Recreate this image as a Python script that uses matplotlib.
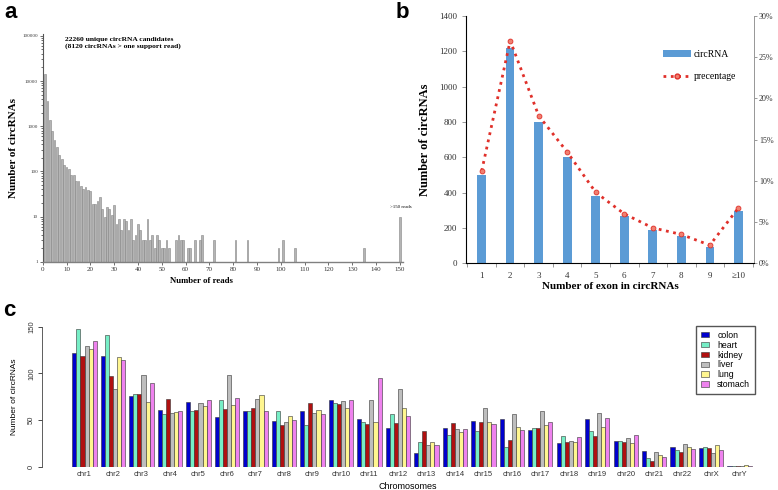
import numpy as np
import matplotlib
matplotlib.use('Agg')
import matplotlib.pyplot as plt
from matplotlib.ticker import FuncFormatter, FixedLocator, PercentFormatter
from matplotlib.lines import Line2D
from matplotlib.patches import Patch

SERIF = 'Liberation Serif'
SANS = 'Liberation Sans'

# ---- panel a: reads per circRNA (log scale) ----
reads = [1, 2, 3, 4, 5, 6, 7, 8, 9, 10, 11, 12, 13, 14, 15, 16, 17, 18, 19, 20,
         21, 22, 23, 24, 25, 26, 27, 28, 29, 30, 31, 32, 33, 34, 35, 36, 37, 38, 39, 40,
         41, 42, 43, 44, 45, 46, 47, 48, 49, 50, 51, 52, 53, 56, 57, 58, 59, 61, 62, 64,
         66, 67, 72, 81, 86, 99, 101, 106, 135, 150]
n_circ = [14000, 3600, 1400, 800, 500, 340, 230, 190, 135, 125, 110, 85, 82, 60, 60, 48, 41, 45, 38, 37,
          19, 19, 22, 27, 15, 10, 16, 15, 11, 18, 7, 9, 5, 9, 8, 5, 9, 3, 4, 7,
          5, 3, 3, 9, 3, 4, 2, 4, 3, 2, 2, 3, 2, 3, 4, 3, 3, 2, 2, 3,
          3, 4, 3, 3, 3, 2, 3, 2, 2, 10]

# ---- panel b: exon number ----
exon_labels = ['1', '2', '3', '4', '5', '6', '7', '8', '9', '≥10']
exon_counts = [500, 1220, 800, 600, 380, 265, 190, 155, 95, 295]
exon_pct = [11.2, 27.0, 17.9, 13.5, 8.6, 6.0, 4.3, 3.5, 2.2, 6.7]

# ---- panel c: circRNAs per chromosome per tissue ----
chroms = ['chr1', 'chr2', 'chr3', 'chr4', 'chr5', 'chr6', 'chr7', 'chr8', 'chr9', 'chr10',
          'chr11', 'chr12', 'chr13', 'chr14', 'chr15', 'chr16', 'chr17', 'chr18', 'chr19',
          'chr20', 'chr21', 'chr22', 'chrX', 'chrY']
tissues = ['colon', 'heart', 'kidney', 'liver', 'lung', 'stomach']
tissue_colors = ['#0000CD', '#76EEC6', '#B01010', '#BEBEBE', '#FFF68F', '#EE82EE']
colon = [122, 119, 76, 61, 69, 53, 60, 49, 60, 72, 51, 42, 15, 42, 49, 51, 39, 25, 51, 28, 17, 21, 20, 1]
heart = [148, 141, 78, 56, 60, 71, 60, 60, 45, 68, 48, 56, 26, 34, 38, 21, 42, 33, 38, 28, 9, 18, 21, 1]
kidney = [119, 97, 78, 73, 61, 62, 63, 45, 68, 67, 46, 47, 38, 47, 48, 29, 42, 27, 33, 27, 6, 16, 20, 1]
liver = [129, 83, 98, 58, 68, 98, 73, 48, 58, 70, 71, 83, 23, 40, 63, 57, 60, 28, 58, 31, 16, 24, 15, 1]
lung = [126, 118, 69, 59, 65, 66, 77, 54, 61, 63, 48, 63, 27, 37, 48, 43, 45, 27, 43, 25, 13, 21, 23, 2]
stomach = [135, 114, 90, 60, 72, 74, 60, 50, 57, 71, 95, 54, 23, 40, 46, 39, 48, 32, 52, 34, 10, 19, 18, 0.5]
tissue_values = [colon, heart, kidney, liver, lung, stomach]

W, H = 778, 490
fig = plt.figure(figsize=(W / 100, H / 100), dpi=100)


def box(x0, y0, x1, y1):
    # pixel box (top-left origin) -> figure fraction rect
    return [x0 / W, 1 - y1 / H, (x1 - x0) / W, (y1 - y0) / H]


# ================= panel a =================
ax = fig.add_axes(box(42.7, 34, 403, 261.7))
ax.bar(reads, n_circ, width=0.75, color='#B4B4B4', edgecolor='#858585', linewidth=0.4, log=True)
ax.set_yscale('log')
ax.set_ylim(1, 1.1e5)
ax.set_xlim(0, 151.3)
ax.set_xticks(np.arange(0, 151, 10))
ax.set_yticks([1, 10, 100, 1000, 10000, 100000])
ax.yaxis.set_major_formatter(FuncFormatter(lambda v, p: f'{int(round(v))}'))
for s in ['top', 'right']:
    ax.spines[s].set_visible(False)
ax.spines['left'].set_color('#555555')
ax.spines['bottom'].set_color('#808080')
ax.spines['bottom'].set_linewidth(1.0)
ax.tick_params(axis='x', labelsize=5, length=2, width=0.5, colors='#333333', pad=2)
ax.tick_params(axis='y', labelsize=3.6, length=2, width=0.5, colors='#333333', pad=1.5)
ax.tick_params(axis='y', which='minor', length=1.5, width=0.4)
for lab in ax.get_xticklabels() + ax.get_yticklabels():
    lab.set_fontfamily(SERIF)
ax.set_ylabel('Number of circRNAs', fontfamily=SERIF, fontweight='bold', fontsize=8)
ax.yaxis.set_label_coords(-0.068, 0.5)
ax.set_xlabel('Number of reads', fontfamily=SERIF, fontweight='bold', fontsize=6.3)
ax.xaxis.set_label_coords(0.44, -0.065)
ax.text(9.4, 9.5e4, '22260 unique circRNA candidates\n(8120 circRNAs > one support read)',
        fontfamily=SERIF, fontweight='bold', fontsize=5.4, va='top', ha='left', linespacing=1.4)
ax.text(150.3, 15, '>150 reads', fontfamily=SERIF, fontsize=3.5, ha='center', va='bottom')
fig.text(4 / W, 1 - 2 / H, 'a', fontsize=16, fontweight='bold', fontfamily=SANS, va='top', ha='left')

# ================= panel b =================
axb = fig.add_axes(box(466, 16, 754, 263.3))
xb = np.arange(1, len(exon_labels) + 1)
axb.bar(xb, exon_counts, width=0.3, color='#5B9BD5', label='circRNA', zorder=2)
axb.set_xlim(0.45, 10.55)
axb.set_ylim(0, 1400)
axb.set_yticks(np.arange(0, 1401, 200))
axb.set_xticks(xb)
axb.set_xticklabels(exon_labels)
axb.xaxis.set_minor_locator(FixedLocator(np.arange(0.5, 10.6, 1)))
axb.tick_params(axis='x', which='major', length=0, pad=6)
axb.tick_params(axis='x', which='minor', length=3, width=0.6, color='#888888')
axb.tick_params(axis='y', length=3, width=0.6, color='#888888')
axb.tick_params(labelsize=6.5, labelcolor='#333333')
axb.spines['top'].set_visible(False)
for s in ['left', 'bottom', 'right']:
    axb.spines[s].set_color('#999999')
    axb.spines[s].set_linewidth(0.7)
for lab in axb.get_xticklabels() + axb.get_yticklabels():
    lab.set_fontfamily(SERIF)
axb.set_ylabel('Number of circRNAs', fontfamily=SERIF, fontweight='bold', fontsize=9, labelpad=6)
axb.set_xlabel('Number of exon in circRNAs', fontfamily=SERIF, fontweight='bold', fontsize=8, labelpad=2)

axr = axb.twinx()
axr.plot(xb, exon_pct, linestyle=':', color='#E0302A', linewidth=2, marker='o',
         markersize=3.5, markerfacecolor='#F08070', markeredgecolor='#E0302A',
         markeredgewidth=0.6, label='precentage')
axr.set_ylim(0, 30)
axr.set_yticks(np.arange(0, 31, 5))
axr.yaxis.set_major_formatter(PercentFormatter(decimals=0))
axr.spines['top'].set_visible(False)
axr.spines['right'].set_color('#999999')
axr.spines['right'].set_linewidth(0.7)
axr.tick_params(axis='y', labelsize=5.8, labelcolor='#333333', length=2.5, width=0.6,
                color='#888888', pad=1)
for lab in axr.get_yticklabels():
    lab.set_fontfamily(SERIF)

handles = [Patch(facecolor='#5B9BD5'),
           Line2D([], [], linestyle=':', color='#E0302A', linewidth=2, marker='o', markersize=3.5,
                  markerfacecolor='#F08070', markeredgecolor='#E0302A')]
fig.legend(handles, ['circRNA', 'precentage'], loc='upper left',
           bbox_to_anchor=(654 / W, 1 - 41 / H), frameon=False,
           prop={'family': SERIF, 'size': 7}, handlelength=2.9, labelspacing=1.4,
           handletextpad=0.3)
fig.text(396 / W, 1 - 2 / H, 'b', fontsize=16, fontweight='bold', fontfamily=SANS, va='top', ha='left')

# ================= panel c =================
axc = fig.add_axes(box(42, 326.7, 760, 466.7))
n_t = len(tissues)
group = np.arange(len(chroms))
for j, (name, vals, col) in enumerate(zip(tissues, tissue_values, tissue_colors)):
    left = 1 + group * (n_t + 1) + j
    axc.bar(left + 0.5, vals, width=1.0, color=col, edgecolor='#333333', linewidth=0.4, label=name)
centers = 1 + group * (n_t + 1) + n_t / 2
axc.set_xlim(-6.45, 170)
axc.set_ylim(0, 150)
axc.set_xticks(centers)
axc.set_xticklabels(chroms)
axc.set_yticks([0, 50, 100, 150])
for s in ['top', 'right', 'bottom']:
    axc.spines[s].set_visible(False)
axc.spines['left'].set_linewidth(0.6)
axc.spines['left'].set_color('#444444')
axc.tick_params(axis='x', length=0, labelsize=5.5, pad=3, labelcolor='#333333')
axc.tick_params(axis='y', length=3, width=0.5, labelsize=5.5, labelcolor='#333333', pad=2)
for lab in axc.get_yticklabels():
    lab.set_rotation(90)
    lab.set_va('center')
for lab in axc.get_xticklabels() + axc.get_yticklabels():
    lab.set_fontfamily(SANS)
axc.set_ylabel('Number of circRNAs', fontfamily=SANS, fontsize=6, labelpad=7)
axc.set_xlabel('Chromosomes', fontfamily=SANS, fontsize=6.5, labelpad=4)
axc.xaxis.set_label_coords(0.51, -0.11)
fig.legend(*axc.get_legend_handles_labels(), loc='upper right',
           bbox_to_anchor=(759 / W, 1 - 322 / H), fancybox=False, edgecolor='#555555',
           prop={'family': SANS, 'size': 6.3}, labelspacing=0.1, handlelength=1.0,
           handleheight=0.6, borderpad=0.5, handletextpad=0.9, framealpha=1)
fig.text(3 / W, 1 - 300 / H, 'c', fontsize=16, fontweight='bold', fontfamily=SANS, va='top', ha='left')

fig.savefig('out.png', dpi=100)
